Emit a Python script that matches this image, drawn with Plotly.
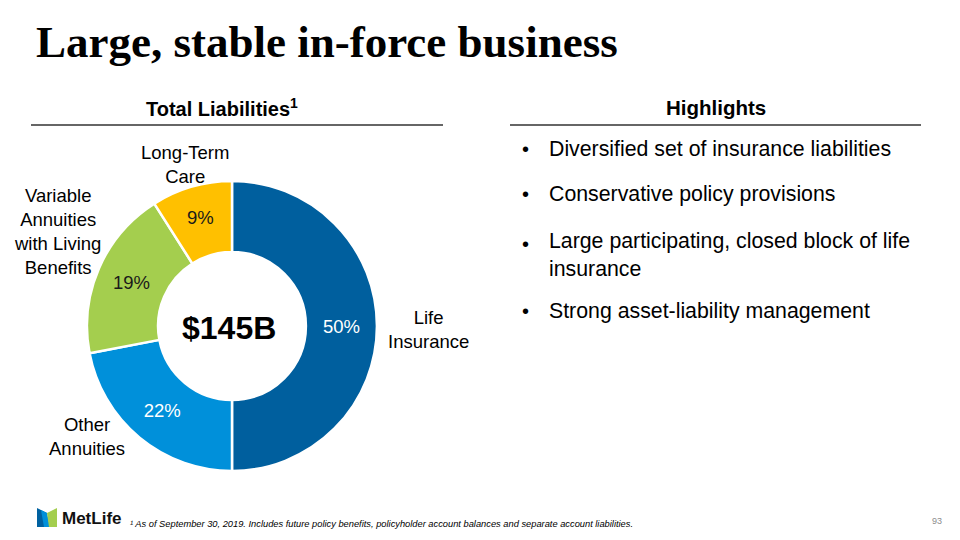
import plotly.graph_objects as go

# ---- data ----
segments = ["Life Insurance", "Other Annuities", "Variable Annuities with Living Benefits", "Long-Term Care"]
shares = [50, 22, 19, 9]
share_labels = ["50%", "22%", "19%", "9%"]
outer_labels = ["Life<br>Insurance", "Other<br>Annuities", "Variable<br>Annuities<br>with Living<br>Benefits", "Long-Term<br>Care"]
total_label = "$145B"
highlights = [
    "Diversified set of insurance liabilities",
    "Conservative policy provisions",
    "Large participating, closed block of life<br>insurance",
    "Strong asset-liability management",
]

# ---- styles ----
slice_colors = ["#005F9E", "#0090DA", "#A4CE4E", "#FFC000"]
text_colors = ["white", "white", "#1a1a1a", "#1a1a1a"]
W, H = 960, 540

def px(x):
    return x / W

def py(y):
    return 1 - y / H

fig = go.Figure()
fig.add_trace(go.Pie(
    labels=segments, values=shares, text=share_labels, textinfo="text",
    sort=False, direction="clockwise", rotation=0, hole=0.51,
    marker=dict(colors=slice_colors, line=dict(color="white", width=2.5)),
    textposition="inside", insidetextorientation="horizontal",
    textfont=dict(family="Arial, Liberation Sans", size=18.5, color=text_colors),
    domain=dict(x=[px(87), px(377)], y=[py(471), py(181)]),
    showlegend=False, hoverinfo="label+percent",
))

ann = []
def A(x, y, text, size, color="#000", bold=False, xanchor="center", family="Arial, Liberation Sans", italic=False):
    t = text
    if bold:
        t = "<b>" + t + "</b>"
    if italic:
        t = "<i>" + t + "</i>"
    ann.append(dict(x=px(x), y=py(y), xref="paper", yref="paper", text=t, showarrow=False,
                    xanchor=xanchor, yanchor="middle", align="center" if xanchor == "center" else "left",
                    font=dict(family=family, size=size, color=color)))

# Title
A(34, 42, "Large, stable in-force business", 45, bold=True, xanchor="left", family="Liberation Serif, Times New Roman, serif")
# Headers
A(222, 107, "Total Liabilities<sup>1</sup>", 20, bold=True)
A(716, 107, "Highlights", 20.5, bold=True)
# Center value
A(229, 328, total_label, 32, bold=True)
# Outer labels
label_pos = [(428, 329), (87, 436), (57, 232), (185, 164)]
for (x, y), t in zip(label_pos, outer_labels):
    A(x, y, t, 18.5)
# Bullets
bullet_y = [149, 194, 255, 311]
for y, t in zip(bullet_y, highlights):
    A(520, y if "<br>" not in t else 244, "•", 20, xanchor="left")
    A(547, y, t, 21.3, xanchor="left")
# Footer
A(128, 524, "¹ As of September 30, 2019. Includes future policy benefits, policyholder account balances and separate account liabilities.", 9.3, italic=True, xanchor="left")
A(937, 521, "93", 9, color="#8c8c8c", xanchor="center")
A(60, 518, "MetLife", 17, bold=True, xanchor="left", color="#111")

shapes = [
    dict(type="line", xref="paper", yref="paper", x0=px(31), x1=px(443), y0=py(125), y1=py(125), line=dict(color="#333", width=1.3)),
    dict(type="line", xref="paper", yref="paper", x0=px(510), x1=px(921), y0=py(125), y1=py(125), line=dict(color="#333", width=1.3)),
]
# MetLife logo icon
def path(pts):
    return "M " + " L ".join(f"{px(x)},{py(y)}" for x, y in pts) + " Z"
shapes += [
    dict(type="path", xref="paper", yref="paper", path=path([(37, 508), (47, 513), (47, 527), (37, 527)]), fillcolor="#0061A0", line=dict(width=0)),
    dict(type="path", xref="paper", yref="paper", path=path([(41, 510), (47, 513), (50, 527), (44, 527)]), fillcolor="#0090DA", line=dict(width=0)),
    dict(type="path", xref="paper", yref="paper", path=path([(47, 513), (57, 508), (57, 527), (49, 527)]), fillcolor="#A4CE4E", line=dict(width=0)),
]

fig.update_layout(
    width=W, height=H, margin=dict(l=0, r=0, t=0, b=0),
    paper_bgcolor="white", plot_bgcolor="white",
    annotations=ann, shapes=shapes,
)
fig.write_html("out.html")
